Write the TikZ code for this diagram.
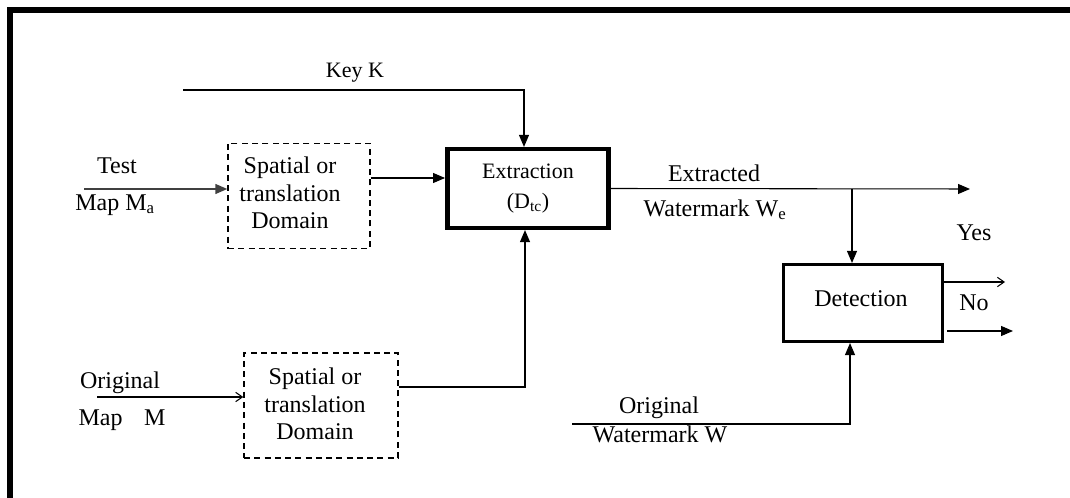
\documentclass[tikz,border=0pt]{standalone}
\usepackage{fontspec}
\setmainfont{Liberation Serif}
\usetikzlibrary{arrows.meta}
\begin{document}
\begin{tikzpicture}[x=0.75pt,y=-0.75pt,
  thin line/.style={line width=0.8pt},
  arr/.style={thin line,-{Triangle[length=9pt,width=7.5pt]}},
  openarr/.style={thin line,-{Straight Barb[length=5pt,width=7pt]}},
  dombox/.style={draw,line width=1.1pt,dash pattern=on 4.5pt off 3.2pt,minimum width=#1,minimum height=79pt,inner sep=0pt},
  txt/.style={font=\fontsize{18}{20.6}\selectfont,inner sep=0pt,align=center},
  smalltxt/.style={font=\fontsize{16.5}{22.5}\selectfont,inner sep=0pt,align=center}]
\useasboundingbox (0,0) rectangle (1070,498);
% heavy frame along top and left
\fill (7,7) rectangle (1070,13);
\fill (7,7) rectangle (13,498);

% processing blocks
\node[dombox=106.5pt] (d1) at (299,196) {};
\node[txt] (d1t) at (290,193) {Spatial or\\translation\\Domain};
\node[dombox=115.5pt,minimum height=78.75pt] (d2) at (321,405.5) {};
\node[txt] (d2t) at (315,404) {Spatial or\\translation\\Domain};
\node[draw,line width=3.4pt,minimum width=121pt,minimum height=59pt,smalltxt] (ex) at (528,188.5)
  {Extraction\\(D\textsubscript{tc})};
\node[draw,line width=2.6pt,minimum width=119pt,minimum height=57.5pt] (det) at (863,303) {};
\node[txt] (dett) at (861,299) {Detection};

% input labels
\node[smalltxt] (key) at (355,73) {Key K};
\node[txt] (test) at (117,166) {Test};
\node[txt] (mapa) at (115,205) {Map M\textsubscript{a}};
\node[txt] (orig) at (120,383) {Original};
\node[txt] (mapm) at (122,420) {Map\hspace{0.9em}M};
\node[txt] (extr) at (714,173) {Extracted};
\node[txt] (wme) at (715,210) {Watermark W\textsubscript{e}};
\node[txt] (yes) at (974,233) {Yes};
\node[txt] (no) at (974,303) {No};
\node[txt] (origw) at (659,408) {Original};
\node[txt] (wmw) at (660,434) {Watermark W};

% connector end points
\coordinate (ks) at (183,90);
\coordinate (kc) at (524,90);
\coordinate (ti) at (84,189);
\coordinate (oi) at (97,397);
\coordinate (m1) at (370,178);
\coordinate (m2) at (525,387);
\coordinate (eo) at (970,189);
\coordinate (br) at (852,189);
\coordinate (y1) at (1005,282);
\coordinate (n1s) at (947,331);
\coordinate (n1) at (1013,331);
\coordinate (ws) at (572,424);
\coordinate (wc) at (850,424);

% connectors
\draw[arr] (ks) -- (kc) -- (kc |- ex.north);
\draw[arr,line width=1.1pt,draw=black!75] (ti) -- (ti -| d1.west);
\draw[arr] (m1 -| d1.east) -- (m1 -| ex.west);
\draw[openarr] (oi) -- (oi -| d2.west);
\draw[arr] (m2 -| d2.east) -- (m2) -- (m2 |- ex.south);
\draw[arr] (ex.east) -- (eo);
\draw[arr] (br) -- (br |- det.north);
\draw[openarr] (y1 -| det.east) -- (y1);
\draw[arr] (n1s) -- (n1);
\draw[arr] (ws) -- (wc) -- (wc |- det.south);
\end{tikzpicture}
\end{document}
